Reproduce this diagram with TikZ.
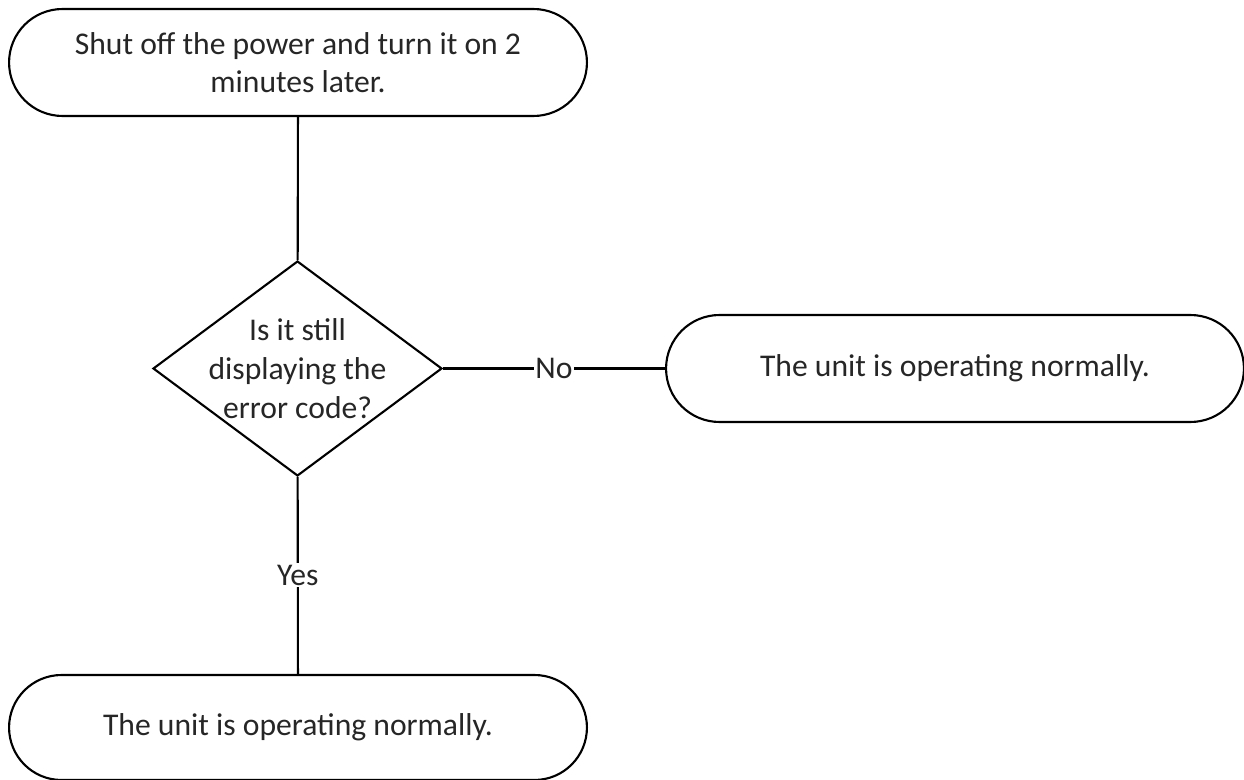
\documentclass[tikz,border=0pt]{standalone}
\usepackage{fontspec}
\setmainfont{Carlito}
\usetikzlibrary{shapes}

\begin{document}
\begin{tikzpicture}[x=0.02cm, y=-0.02cm,
    every node/.style={font=\fontsize{18}{22}\selectfont, text=black!85},
    term/.style={draw, line width=1.2pt, rounded rectangle, minimum width=11.56cm, minimum height=2.14cm, align=center, inner sep=0pt},
    decision/.style={draw, line width=1.2pt, diamond, minimum width=5.78cm, minimum height=4.3cm, inner sep=0pt},
    lbl/.style={fill=white, inner sep=1pt}]
                        \useasboundingbox (0,0) rectangle (1244,780);
                        \node[term] (shut) at (298, 62.5) {Shut off the power and turn it on 2\\minutes later.};
                        \node[decision, label={[align=center]center:Is it still\\displaying the\\error code?}] (still) at (297.5, 368.5) {};
                        \node[term] (normr) at (955, 368.5) {The unit is operating normally.};
                        \node[term, minimum height=2.1cm] (normb) at (298, 727.5) {The unit is operating normally.};
                        \draw[line width=1.2pt]
                        (shut) edge (still)
                        (still) edge node[lbl] {No} (normr)
                        (still) edge node[lbl] {Yes} (normb);
                    \end{tikzpicture}
\end{document}
